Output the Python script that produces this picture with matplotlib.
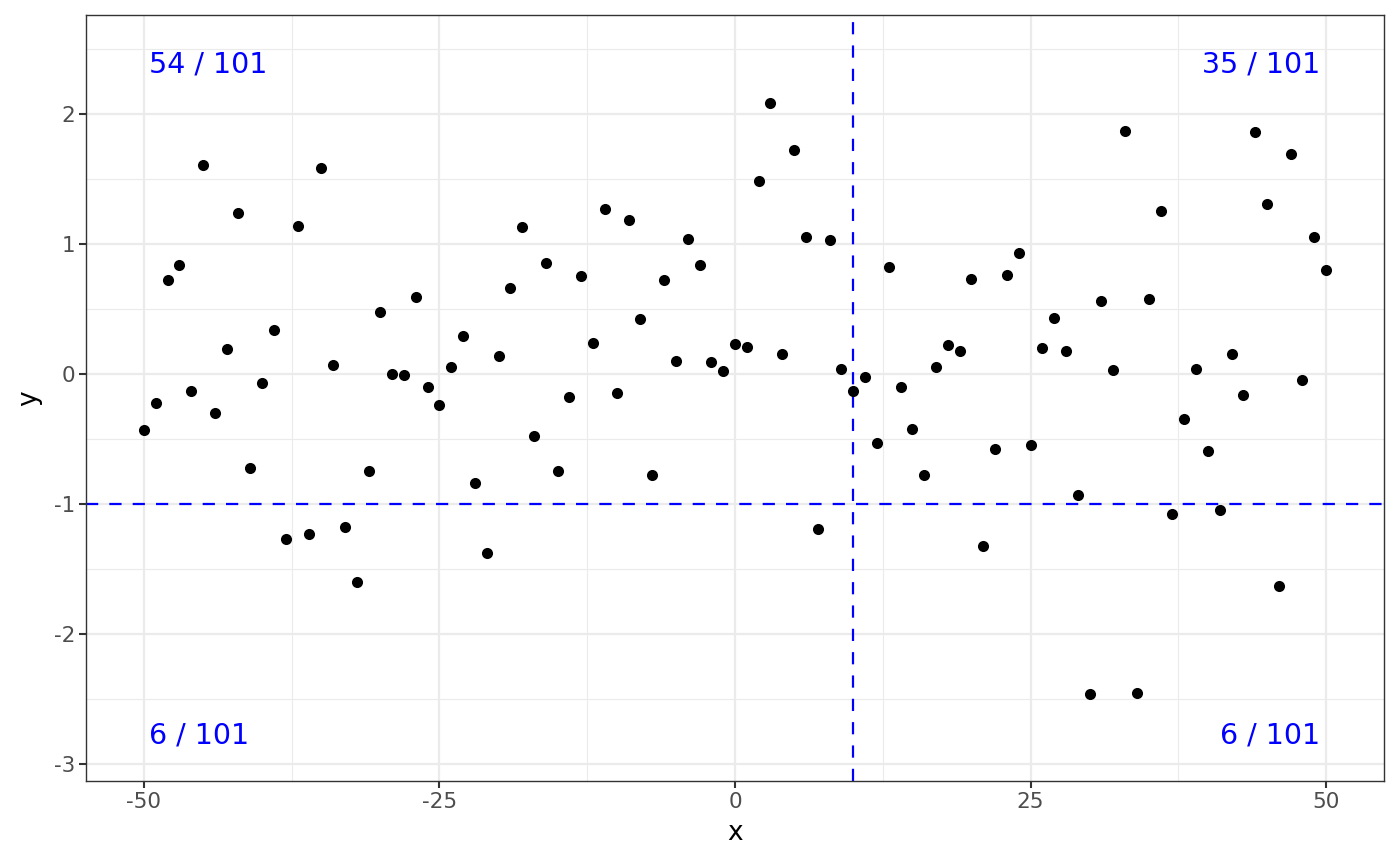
import numpy as np
import matplotlib
matplotlib.use("Agg")
import matplotlib.pyplot as plt
from matplotlib.ticker import MultipleLocator

# --- data ---
x = np.arange(-50, 51)
y = [-0.43, -0.22, 0.72, 0.84, -0.13, 1.61, -0.30, 0.19, 1.24, -0.72,
     -0.07, 0.34, -1.27, 1.14, -1.23, 1.58, 0.07, -1.18, -1.60, -0.75,
     0.48, 0.00, -0.01, 0.59, -0.10, -0.24, 0.05, 0.29, -0.84, -1.38,
     0.14, 0.66, 1.13, -0.48, 0.85, -0.75, -0.18, 0.75, 0.24, 1.27,
     -0.15, 1.18, 0.42, -0.78, 0.72, 0.10, 1.04, 0.84, 0.09, 0.02,
     0.23, 0.21, 1.48, 2.08, 0.15, 1.72, 1.05, -1.19, 1.03, 0.04,
     -0.13, -0.02, -0.53, 0.82, -0.10, -0.42, -0.78, 0.05, 0.22, 0.18,
     0.73, -1.32, -0.58, 0.76, 0.93, -0.55, 0.20, 0.43, 0.18, -0.93,
     -2.46, 0.56, 0.03, 1.87, -2.45, 0.58, 1.25, -1.08, -0.35, 0.04,
     -0.59, -1.05, 0.15, -0.16, 1.86, 1.31, -1.63, 1.69, -0.05, 1.05,
     0.80]
x_cut = 10
y_cut = -1
quad_labels = ["54 / 101", "35 / 101", "6 / 101", "6 / 101"]  # TL, TR, BL, BR

GRID = "#EBEBEB"
DARK = "#333333"

fig = plt.figure(figsize=(14, 8.66), dpi=100)
ax = fig.add_axes([86/1400, 1 - 781/866, (1384-86)/1400, (781-15)/866])

ax.set_xlim(-54.9, 54.9)
ax.set_ylim(-3.13, 2.76)
ax.xaxis.set_major_locator(MultipleLocator(25))
ax.xaxis.set_minor_locator(MultipleLocator(12.5))
ax.yaxis.set_major_locator(MultipleLocator(1))
ax.yaxis.set_minor_locator(MultipleLocator(0.5))
ax.grid(which="major", color=GRID, lw=1.6, zorder=0)
ax.grid(which="minor", color=GRID, lw=0.8, zorder=0)
ax.set_axisbelow(True)

ax.scatter(x, y, s=64, color="black", linewidths=0, zorder=3)
ax.axvline(x_cut, color="blue", lw=1.6, dashes=(5.5, 5), zorder=2)
ax.axhline(y_cut, color="blue", lw=1.6, dashes=(5.5, 5), zorder=2)

tkw = dict(color="blue", fontsize=20.5, zorder=4)
ax.text(-49.6, 2.38, quad_labels[0], ha="left", va="center", **tkw)
ax.text(49.5, 2.38, quad_labels[1], ha="right", va="center", **tkw)
ax.text(-49.6, -2.78, quad_labels[2], ha="left", va="center", **tkw)
ax.text(49.5, -2.78, quad_labels[3], ha="right", va="center", **tkw)

ax.set_xticks([-50, -25, 0, 25, 50])
ax.set_xticklabels(["-50", "-25", "0", "25", "50"])
ax.set_yticks([-3, -2, -1, 0, 1, 2])
ax.set_yticklabels(["-3", "-2", "-1", "0", "1", "2"])
ax.tick_params(which="major", length=5, width=1.5, color=DARK,
               labelcolor="#4D4D4D", labelsize=15.5, pad=3)
ax.tick_params(which="minor", length=0)
for s in ax.spines.values():
    s.set_color(DARK)
    s.set_linewidth(1)

ax.set_xlabel("x", fontsize=19, labelpad=6)
ax.set_ylabel("y", fontsize=19, labelpad=8)

fig.savefig("out.png", dpi=100, facecolor="white")
